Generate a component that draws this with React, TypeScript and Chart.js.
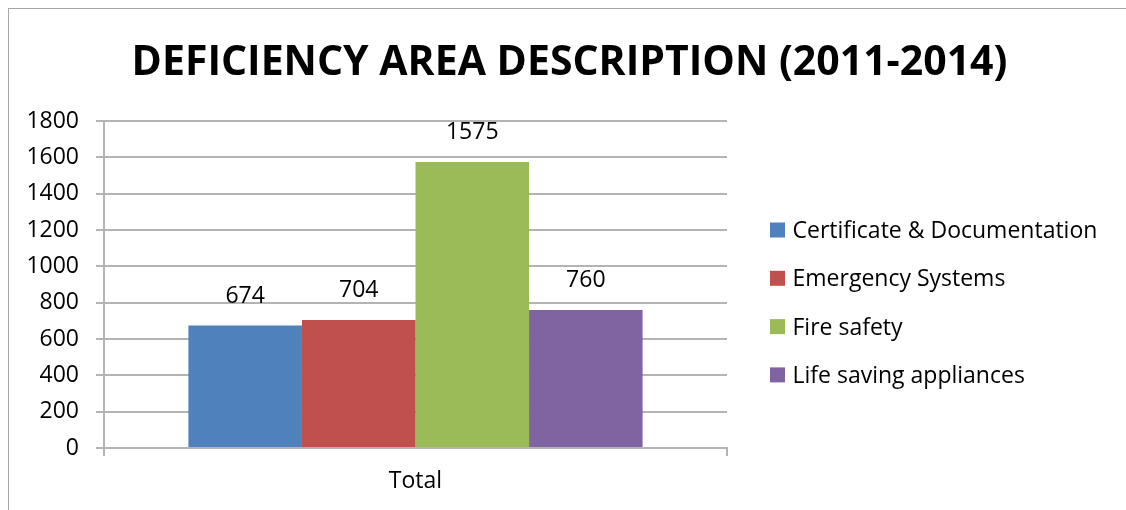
import React, { useEffect, useRef } from 'react';
import { Chart, registerables } from 'chart.js';
Chart.register(...registerables);

const categories = ['Total'];
const seriesNames = ['Certificate & Documentation', 'Emergency Systems', 'Fire safety', 'Life saving appliances'];
const seriesValues = [674, 704, 1575, 760];
const seriesColors = ['#4F81BD', '#C0504D', '#9BBB59', '#8064A2'];
const yTickLabels = ['0', '200', '400', '600', '800', '1000', '1200', '1400', '1600', '1800'];
const chartTitle = 'DEFICIENCY AREA DESCRIPTION (2011-2014)';

const FONT = 'Open Sans';
const TEXT_SIZE = 23;
const GRID = '#b4b4b4';

export default function App() {
  const ref = useRef<HTMLCanvasElement>(null);
  useEffect(() => {
    if (!ref.current) return;
    const titlePlugin = {
      id: 'titleText',
      afterDraw(chart: any) {
        const ctx = chart.ctx;
        ctx.save();
        ctx.font = `bold 41px "${FONT}"`;
        ctx.fillStyle = '#000';
        ctx.textAlign = 'center';
        ctx.textBaseline = 'alphabetic';
        ctx.fillText(chartTitle, 569.5, 75);
        ctx.restore();
      },
    };
    const labelPlugin = {
      id: 'valueLabels',
      afterDatasetsDraw(chart: any) {
        const ctx = chart.ctx;
        ctx.save();
        ctx.font = `${TEXT_SIZE}px "${FONT}"`;
        ctx.fillStyle = '#000';
        ctx.textAlign = 'center';
        ctx.textBaseline = 'alphabetic';
        chart.data.datasets.forEach((ds: any, i: number) => {
          const meta = chart.getDatasetMeta(i);
          meta.data.forEach((bar: any, j: number) => {
            ctx.fillText(String(ds.data[j]), bar.x, bar.y - 23);
          });
        });
        ctx.restore();
      },
    };
    const legendPlugin = {
      id: 'sideLegend',
      afterDraw(chart: any) {
        const ctx = chart.ctx;
        ctx.save();
        ctx.font = `${TEXT_SIZE}px "${FONT}"`;
        ctx.textBaseline = 'alphabetic';
        chart.data.datasets.forEach((ds: any, i: number) => {
          const cy = 230 + i * 48.3;
          ctx.fillStyle = ds.backgroundColor;
          ctx.fillRect(770, cy - 7.5, 15, 15);
          ctx.fillStyle = '#000';
          ctx.fillText(ds.label, 792.5, cy + 8);
        });
        ctx.restore();
      },
    };
    const chart = new Chart(ref.current, {
      type: 'bar',
      data: {
        labels: categories,
        datasets: seriesNames.map((name, i) => ({
          label: name,
          data: [seriesValues[i]],
          backgroundColor: seriesColors[i],
          borderWidth: 0,
          categoryPercentage: 0.729,
          barPercentage: 1,
        })),
      },
      options: {
        animation: false,
        responsive: false,
        layout: { padding: { top: 121, right: 399, bottom: 0, left: 0 } },
        plugins: { legend: { display: false }, title: { display: false }, tooltip: { enabled: false } },
        scales: {
          x: {
            offset: true,
            grid: { offset: true, drawOnChartArea: false, drawTicks: true, tickLength: 8, color: GRID, lineWidth: 2 },
            border: { color: GRID, width: 2 },
            ticks: { color: '#000', font: { family: FONT, size: TEXT_SIZE }, padding: 12 },
            afterFit: (s: any) => { s.height = 62; },
          },
          y: {
            min: 0,
            max: 1800,
            grid: { color: GRID, tickLength: 8, lineWidth: 2 },
            border: { color: GRID, width: 2 },
            ticks: {
              stepSize: 200,
              color: '#000',
              font: { family: FONT, size: TEXT_SIZE },
              padding: 17,
              callback: (_v: any, i: number) => yTickLabels[i],
            },
            afterFit: (s: any) => { s.width = 104; },
          },
        },
      },
      plugins: [titlePlugin, labelPlugin, legendPlugin],
    });
    return () => chart.destroy();
  }, []);
  return (
    <>
      <div style={{ position: 'fixed', left: 8, top: 8, width: 1200, height: 600, borderLeft: '1px solid #a6a6a6', borderTop: '1px solid #a6a6a6', boxSizing: 'border-box', pointerEvents: 'none' }} />
      <canvas ref={ref} width={1126} height={510} style={{ position: 'fixed', left: 0, top: 0, width: 1126, height: 510 }} />
    </>
  );
}
